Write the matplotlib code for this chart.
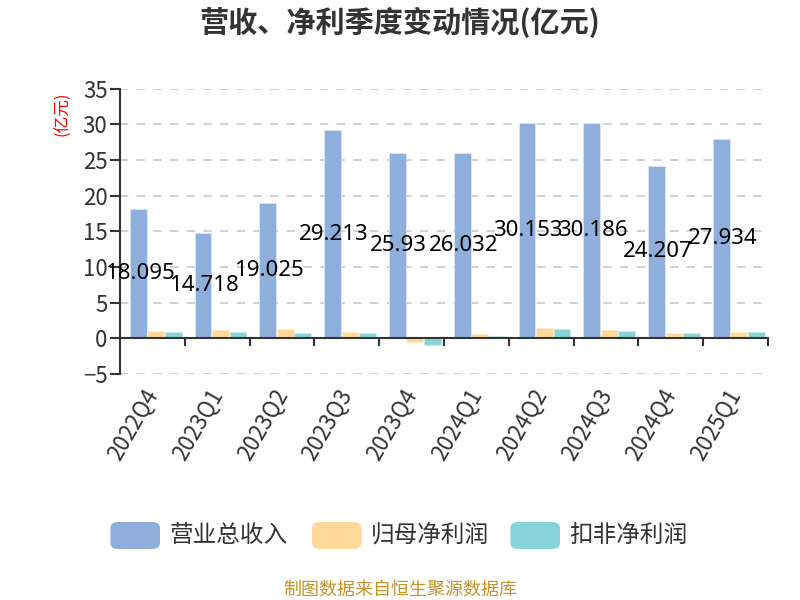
import numpy as np
import matplotlib.pyplot as plt
from matplotlib.patches import FancyBboxPatch

plt.rcParams['font.family'] = ['Noto Sans CJK SC', 'DejaVu Sans']

quarters = ['2022Q4', '2023Q1', '2023Q2', '2023Q3', '2023Q4',
            '2024Q1', '2024Q2', '2024Q3', '2024Q4', '2025Q1']
revenue = [18.095, 14.718, 19.025, 29.213, 25.93, 26.032, 30.153, 30.186, 24.207, 27.934]
net_profit = [0.98, 1.08, 1.22, 0.90, -0.56, 0.52, 1.36, 1.08, 0.66, 0.80]
deducted_profit = [0.90, 0.87, 0.77, 0.75, -0.94, 0.37, 1.31, 0.98, 0.66, 0.80]
revenue_labels = ['18.095', '14.718', '19.025', '29.213', '25.93',
                  '26.032', '30.153', '30.186', '24.207', '27.934']

c_rev = '#8eaedb'
c_np = '#ffd898'
c_dp = '#86d4d8'

fig = plt.figure(figsize=(8, 6), dpi=100)
ax = fig.add_axes([0.15, 0.377, 0.81, 0.475])

x = np.arange(len(quarters))
w = 0.26
ax.bar(x - 0.22, revenue, w, color=c_rev, edgecolor='#dce6f4', linewidth=0.6, zorder=3)
ax.bar(x + 0.05, net_profit, w, color=c_np, edgecolor='#ffeccc', linewidth=0.6, zorder=3)
ax.bar(x + 0.32, deducted_profit, w, color=c_dp, edgecolor='#c6ecee', linewidth=0.6, zorder=3)

for i, v in enumerate(revenue):
    ax.text(x[i] - 0.2, v / 2, revenue_labels[i], ha='center', va='center',
            fontsize=16, color='black', zorder=5, family=['Noto Sans', 'DejaVu Sans'])

ax.set_xlim(-0.5, len(quarters) - 0.5)
ax.set_ylim(-5, 35)
ax.set_yticks(range(-5, 36, 5))
ax.tick_params(axis='y', labelsize=16, colors='#333333', length=7, width=1.5, direction='out', pad=2)
ax.yaxis.grid(True, linestyle=(0, (5, 5)), color='#c8c8c8', linewidth=1.2, zorder=0)

for s in ['top', 'right', 'bottom']:
    ax.spines[s].set_visible(False)
ax.spines['left'].set_color('#333333')
ax.spines['left'].set_linewidth(1.5)
ax.axhline(0, color='#333333', linewidth=1.5, zorder=4)

ax.set_xticks(x)
ax.set_xticklabels(quarters, rotation=60, ha='right', va='center', rotation_mode='anchor',
                   fontsize=16, color='#333333')
ax.tick_params(axis='x', length=0, pad=12)
for b in np.arange(len(quarters) + 1) - 0.5:
    ax.plot([b, b], [0, -1.0], color='#333333', linewidth=1.5, zorder=4, clip_on=False)

fig.text(0.078, 0.81, '(亿元)', color='red', fontsize=12, rotation=90, ha='center', va='center')
fig.text(0.5, 0.963, '营收、净利季度变动情况(亿元)', fontsize=21, fontweight='bold',
         ha='center', va='center', color='#333333')

legend_items = [('营业总收入', c_rev, 0.138), ('归母净利润', c_np, 0.39), ('扣非净利润', c_dp, 0.638)]
for name, col, lx in legend_items:
    fig.patches.append(FancyBboxPatch((lx, 0.085), 0.062, 0.045, boxstyle='round,pad=0,rounding_size=0.01',
                                      transform=fig.transFigure, facecolor=col, edgecolor='none'))
    fig.text(lx + 0.074, 0.108, name, fontsize=17, color='#333333', va='center', ha='left')

fig.text(0.5, 0.018, '制图数据来自恒生聚源数据库', fontsize=13, color='#c8922a', ha='center', va='center')

fig.savefig('out.png', dpi=100)
